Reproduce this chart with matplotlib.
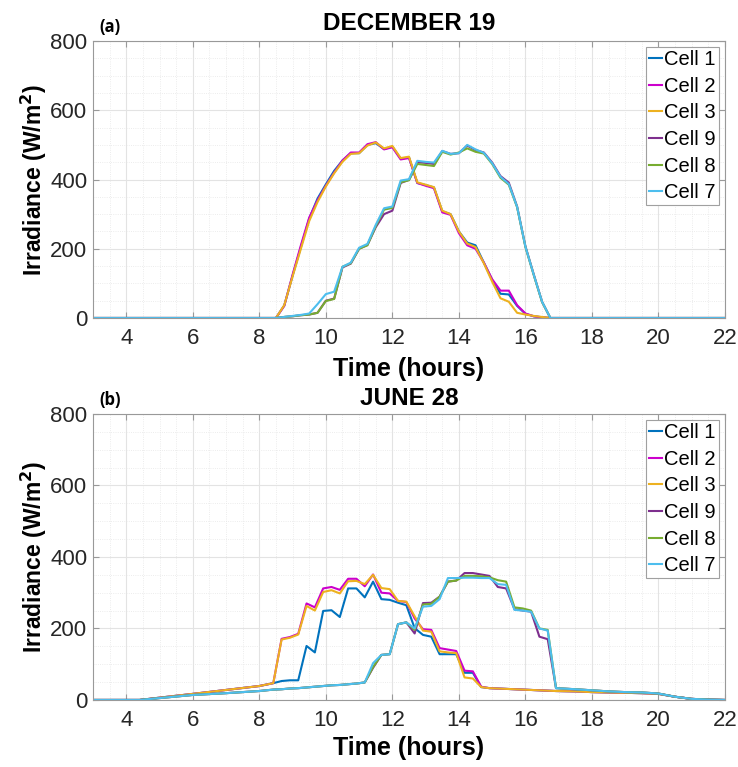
import matplotlib
matplotlib.use('Agg')
import matplotlib.pyplot as plt
from matplotlib.ticker import MultipleLocator

plt.rcParams['font.family'] = ['Liberation Sans', 'DejaVu Sans']

# ---- December 19 (15 min samples) ----
t_dec = [3.0, 8.5, 8.75, 9.0, 9.25, 9.5, 9.75, 10.0, 10.25, 10.5, 10.75, 11.0, 11.25,
         11.5, 11.75, 12.0, 12.25, 12.5, 12.75, 13.0, 13.25, 13.5, 13.75, 14.0, 14.25,
         14.5, 14.75, 15.0, 15.25, 15.5, 15.75, 16.0, 16.25, 16.5, 16.75, 22.0]
dec_cell1 = [0, 0, 36, 122, 205, 287, 345, 386, 425, 455, 476, 476, 500, 505, 488, 495, 460, 464,
             390, 384, 377, 308, 300, 250, 218, 210, 160, 110, 70, 68, 35, 12, 5, 2, 0, 0]
dec_cell2 = [0, 0, 35, 125, 210, 290, 340, 382, 420, 455, 478, 478, 502, 508, 487, 493, 458, 462,
             390, 382, 375, 305, 298, 245, 210, 200, 160, 112, 79, 79, 37, 13, 5, 2, 0, 0]
dec_cell3 = [0, 0, 37, 120, 200, 280, 335, 380, 418, 451, 474, 476, 498, 507, 490, 497, 462, 466,
             392, 385, 378, 310, 300, 250, 215, 205, 158, 105, 57, 47, 15, 10, 6, 3, 0, 0]
dec_cell9 = [0, 0, 3, 5, 8, 10, 15, 50, 56, 146, 157, 200, 211, 262, 300, 310, 390, 399,
             450, 448, 445, 482, 474, 476, 498, 485, 478, 449, 410, 391, 322, 207, 126, 47, 0, 0]
dec_cell8 = [0, 0, 3, 5, 8, 10, 15, 49, 55, 148, 158, 200, 210, 265, 313, 318, 392, 398,
             445, 442, 439, 480, 472, 478, 490, 480, 475, 445, 405, 385, 320, 205, 124, 46, 0, 0]
dec_cell7 = [0, 0, 3, 6, 9, 13, 40, 69, 76, 148, 160, 203, 214, 269, 317, 322, 397, 401,
             454, 451, 449, 483, 474, 476, 500, 487, 477, 447, 408, 387, 321, 206, 125, 47, 0, 0]

# ---- June 28 ----
t_jun = [3.0, 4.4, 6.0, 7.0, 8.0, 8.42, 8.67, 8.92, 9.17, 9.42, 9.67, 9.92, 10.17, 10.42,
         10.67, 10.92, 11.17, 11.42, 11.67, 11.92, 12.17, 12.42, 12.67, 12.92, 13.17, 13.42,
         13.67, 13.92, 14.17, 14.42, 14.67, 14.92, 15.17, 15.42, 15.67, 15.92, 16.17, 16.42,
         16.67, 16.92, 17.5, 18.0, 18.5, 19.0, 19.5, 20.0, 20.5, 21.0, 21.5, 22.0]
jun_cell1 = [0, 0, 17, 28, 39, 47, 53, 55, 55, 151, 133, 249, 251, 232, 312, 312, 287,
             331, 282, 280, 272, 265, 201, 182, 177, 128, 128, 128, 76, 76,
             36, 33, 32, 31, 30, 29, 28, 27, 26, 25, 24, 22, 21, 20, 19, 17, 9, 3, 1, 0]
jun_cell2 = [0, 0, 17, 28, 39, 47, 171, 176, 185, 270, 259, 312, 316, 308, 339, 339, 318,
             351, 300, 298, 277, 274, 228, 198, 196, 145, 141, 137, 82, 80,
             37, 33, 32, 31, 30, 29, 28, 27, 26, 25, 24, 22, 21, 20, 19, 17, 9, 3, 1, 0]
jun_cell3 = [0, 0, 17, 28, 39, 47, 169, 174, 183, 263, 250, 302, 307, 298, 332, 333, 324,
             350, 313, 310, 277, 275, 234, 194, 191, 136, 133, 131, 63, 60,
             36, 33, 32, 31, 30, 29, 28, 27, 26, 25, 24, 22, 21, 20, 19, 17, 9, 3, 1, 0]
jun_cell9 = [0, 0, 14, 19, 25, 29, 30, 32, 33, 35, 37, 39, 41, 42, 44, 46, 49,
             90, 126, 128, 212, 217, 186, 271, 272, 289, 331, 334, 355, 355,
             351, 347, 316, 312, 254, 250, 247, 177, 170, 33, 30, 27, 24, 22, 21, 18, 9, 3, 1, 0]
jun_cell8 = [0, 0, 14, 19, 25, 29, 30, 32, 33, 35, 37, 39, 41, 42, 44, 46, 49,
             92, 126, 128, 212, 217, 196, 267, 269, 289, 331, 334, 347, 347,
             346, 343, 335, 331, 259, 256, 250, 200, 196, 33, 30, 27, 24, 22, 21, 18, 9, 3, 1, 0]
jun_cell7 = [0, 0, 14, 19, 25, 29, 30, 32, 33, 35, 37, 39, 41, 42, 44, 46, 49,
             103, 126, 128, 212, 217, 200, 261, 263, 282, 341, 341, 342, 342,
             341, 341, 324, 322, 252, 250, 247, 200, 194, 33, 30, 27, 24, 22, 21, 18, 9, 3, 1, 0]

labels = ['Cell 1', 'Cell 2', 'Cell 3', 'Cell 9', 'Cell 8', 'Cell 7']
colors = ['#0072BD', '#CC00CC', '#EDB120', '#7E2F8E', '#77AC30', '#4DBEEE']

x_ticks = [4, 6, 8, 10, 12, 14, 16, 18, 20, 22]
y_ticks = [0, 200, 400, 600, 800]

fig = plt.figure(figsize=(7.38, 7.67), dpi=100)
ax1 = fig.add_axes([0.1260, 0.5854, 0.8564, 0.3611])
ax2 = fig.add_axes([0.1260, 0.0874, 0.8564, 0.3729])

panels = [
    (ax1, t_dec, [dec_cell1, dec_cell2, dec_cell3, dec_cell9, dec_cell8, dec_cell7],
     'DECEMBER 19', '(a)', 8),
    (ax2, t_jun, [jun_cell1, jun_cell2, jun_cell3, jun_cell9, jun_cell8, jun_cell7],
     'JUNE 28', '(b)', 6.5),
]

for ax, t, series, title, tag, tpad in panels:
    for y, lab, c in zip(series, labels, colors):
        ax.plot(t, y, color=c, linewidth=1.5, label=lab)
    ax.set_xlim(3, 22)
    ax.set_ylim(0, 800)
    ax.set_xticks(x_ticks)
    ax.set_yticks(y_ticks)
    ax.xaxis.set_minor_locator(MultipleLocator(0.5))
    ax.yaxis.set_minor_locator(MultipleLocator(50))
    ax.grid(which='major', color='#e3e3e3', linewidth=0.8, linestyle='-')
    ax.grid(which='minor', color='#e6e6e6', linewidth=0.6, linestyle=':')
    ax.set_axisbelow(True)
    ax.tick_params(which='major', direction='in', length=4, top=True, right=True,
                   color='#999999', labelsize=16, labelcolor='#262626')
    ax.tick_params(axis='x', which='major', pad=7)
    ax.tick_params(axis='y', which='major', pad=4)
    ax.tick_params(which='minor', length=0)
    for s in ax.spines.values():
        s.set_color('#999999')
        s.set_linewidth(0.8)
    ax.set_title(title, fontsize=17.5, fontweight='bold', pad=tpad)
    ax.text(0.0095, 1.033, tag, transform=ax.transAxes, fontsize=12, fontweight='bold',
            va='baseline', ha='left', family=['Open Sans', 'DejaVu Sans'])
    ax.set_xlabel('Time (hours)', fontsize=18, fontweight='bold')
    ax.set_ylabel('Irradiance (W/m$^\\mathbf{2}$)', fontsize=16.5, fontweight='bold')
    ax.yaxis.set_label_coords(-0.07, 0.5)
    leg = ax.legend(loc='upper right', fontsize=14.5, fancybox=False, framealpha=1,
                    edgecolor='#a0a0a0', borderaxespad=0.3, handlelength=0.65,
                    handletextpad=0.1, labelspacing=0.38, borderpad=0.15)
    leg.get_frame().set_linewidth(0.8)

ax1.xaxis.set_label_coords(0.5, -0.14)
ax2.xaxis.set_label_coords(0.5, -0.125)

fig.savefig('out.png', dpi=100)
